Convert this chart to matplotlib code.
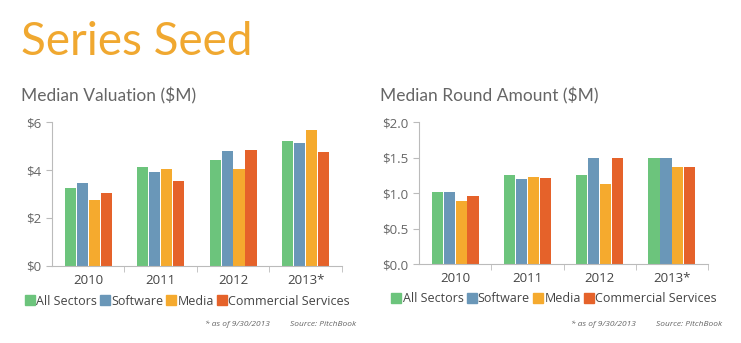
import matplotlib.pyplot as plt
from matplotlib.patches import Patch

years = ['2010', '2011', '2012', '2013*']
sectors = ['All Sectors', 'Software', 'Media', 'Commercial Services']
colors = ['#6cc47c', '#6a97b8', '#f5aa2e', '#e5622a']

valuation = [
    [3.23, 4.11, 4.40, 5.22],   # All Sectors
    [3.45, 3.92, 4.79, 5.11],   # Software
    [2.77, 4.04, 4.04, 5.67],   # Media
    [3.05, 3.55, 4.82, 4.75],   # Commercial Services
]
round_amount = [
    [1.01, 1.25, 1.26, 1.50],
    [1.01, 1.20, 1.50, 1.50],
    [0.89, 1.22, 1.13, 1.36],
    [0.96, 1.21, 1.50, 1.36],
]

plt.rcParams['font.family'] = ['Open Sans', 'DejaVu Sans']
grey = '#666666'
axis_grey = '#bbbbbb'

fig = plt.figure(figsize=(7.41, 3.43), dpi=100)
fig.text(0.028, 0.84, 'Series Seed', fontsize=33, color='#f0a830', family='Lato')


def grouped_bars(ax, data, ymax, step, fmt, subtitle, sub_x):
    width = 0.155
    gap = 0.165
    for i, series in enumerate(data):
        xs = [j + (i - 1.5) * gap for j in range(len(years))]
        ax.bar(xs, series, width=width, color=colors[i])
    ax.set_xlim(-0.5, 3.5)
    ax.set_ylim(0, ymax)
    ticks = [k * step for k in range(int(round(ymax / step)) + 1)]
    ax.set_yticks(ticks)
    ax.set_yticklabels([fmt.format(t) for t in ticks])
    ax.set_xticks(range(len(years)))
    ax.set_xticklabels(years)
    ax.set_xticks([0.5, 1.5, 2.5, 3.5], minor=True)
    ax.tick_params(axis='x', which='major', length=0, pad=6, labelsize=9.5, labelcolor='#444444')
    ax.tick_params(axis='x', which='minor', length=4, color=axis_grey, direction='out')
    ax.tick_params(axis='y', length=4, color=axis_grey, labelsize=9.5, labelcolor=grey)
    for side in ['top', 'right']:
        ax.spines[side].set_visible(False)
    for side in ['left', 'bottom']:
        ax.spines[side].set_color(axis_grey)
    handles = [Patch(color=c, label=s) for c, s in zip(colors, sectors)]
    ax.legend(handles=handles, loc='upper center', bbox_to_anchor=(0.467, -0.12), ncol=4,
              frameon=False, fontsize=9, handlelength=0.8, handleheight=0.8,
              handletextpad=0.1, columnspacing=0.25, labelcolor='#444444')
    fig.text(sub_x, 0.705, subtitle, fontsize=12.5, color='#666666', family='Lato')
    x1 = ax.get_position().x1
    fig.text(x1 - 0.185, 0.05, '* as of 9/30/2013', fontsize=6, style='italic', color=grey)
    fig.text(x1 - 0.07, 0.05, 'Source: PitchBook', fontsize=6, style='italic', color=grey)


ax1 = fig.add_axes([0.0702, 0.2245, 0.391, 0.4198])
grouped_bars(ax1, valuation, 6, 2, '${:.0f}', 'Median Valuation ($M)', 0.028)

ax2 = fig.add_axes([0.5655, 0.2303, 0.390, 0.414])
grouped_bars(ax2, round_amount, 2.0, 0.5, '${:.1f}', 'Median Round Amount ($M)', 0.513)

fig.savefig('out.png', dpi=100)
